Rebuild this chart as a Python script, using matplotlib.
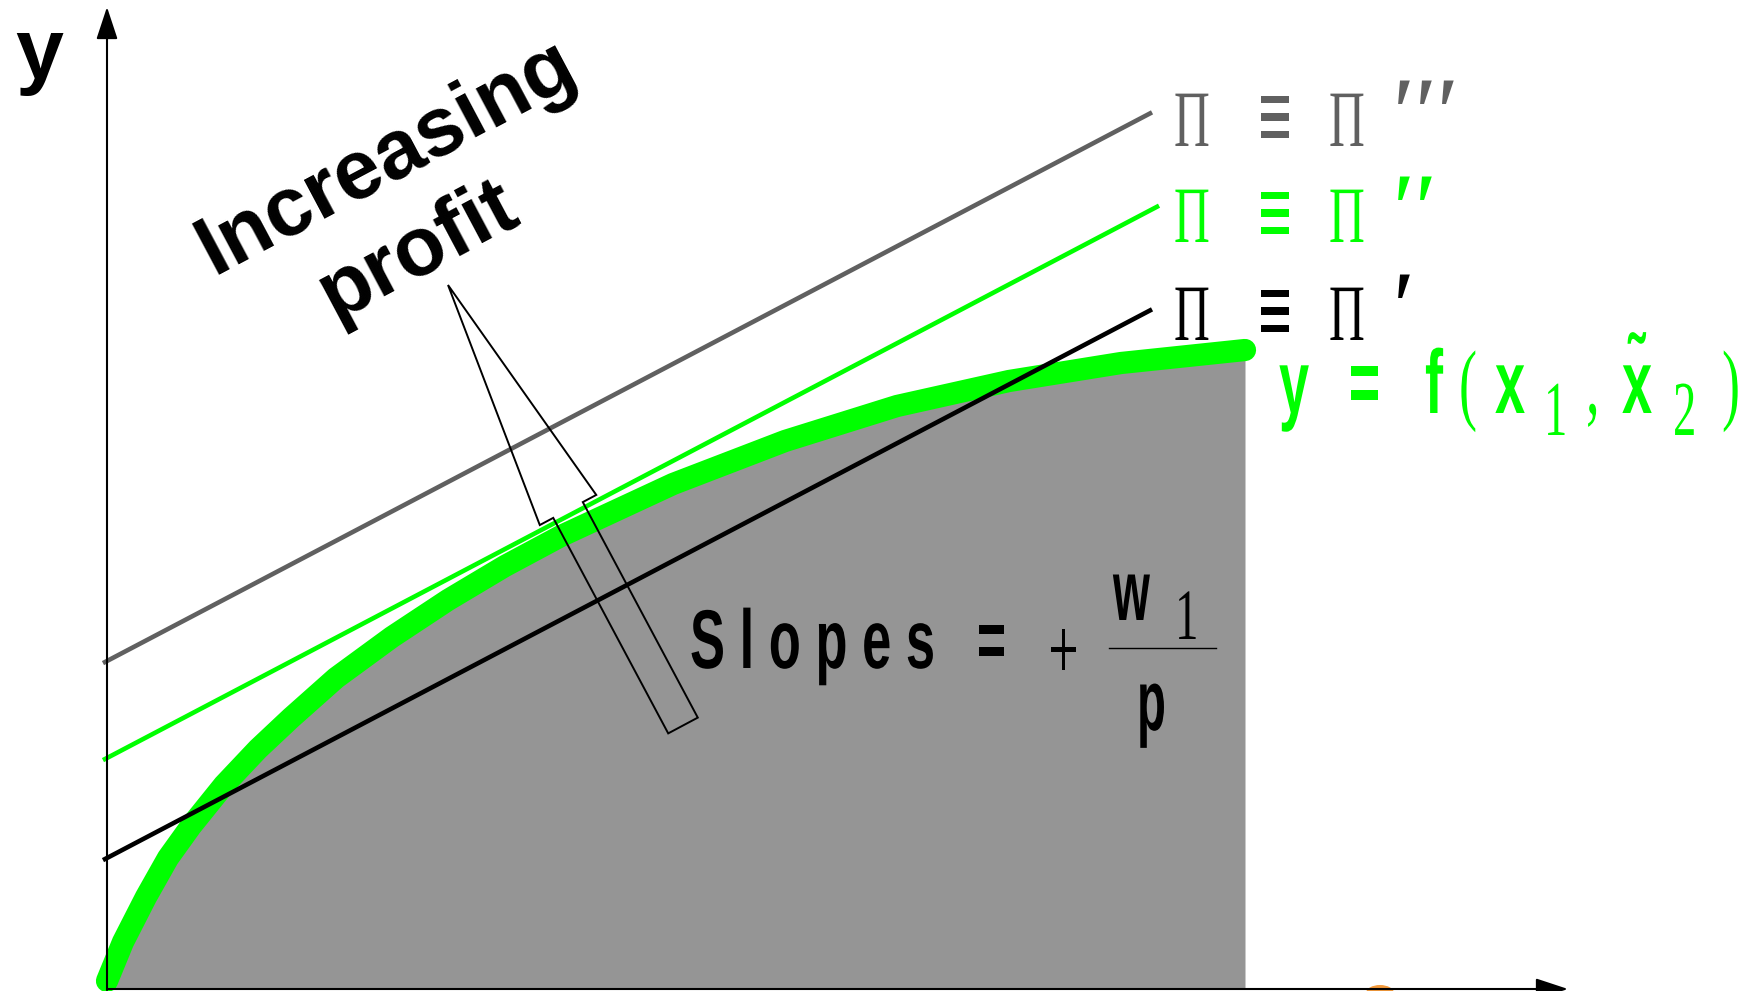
import matplotlib
matplotlib.use("Agg")
import matplotlib.pyplot as plt
from matplotlib.patches import FancyArrow, Ellipse
from matplotlib.patheffects import AbstractPathEffect
from matplotlib.transforms import Affine2D, Bbox
from matplotlib.text import Text
from matplotlib.textpath import TextPath

# production function y = f(x1, x2~)
x1 = [0.00, 0.16, 0.39, 0.61, 0.84, 1.17, 1.51, 1.84, 2.29, 2.85, 3.41, 3.98,
      4.54, 5.66, 6.78, 7.90, 9.02, 10.14, 11.38]
fx = [0.08, 0.47, 0.92, 1.31, 1.63, 2.04, 2.40, 2.71, 3.11, 3.52, 3.89, 4.23,
      4.53, 5.05, 5.48, 5.83, 6.08, 6.26, 6.39]

# iso-profit lines  y = pi/p + (w1/p) x1
slope = 0.525
intercepts = [1.31, 2.31, 3.28]
line_end = [10.43, 10.50, 10.43]
line_colors = ["black", "#00ff00", "#606060"]
primes = ["\u2032", "\u2032\u2032", "\u2032\u2032\u2032"]
label_base = [6.49, 7.47, 8.43]

SANS = "Liberation Sans"
SERIF = "Liberation Serif"
GREEN = "#00ff00"


class Squeeze(AbstractPathEffect):
    # narrow the glyphs horizontally (condensed look of the original)
    def __init__(self, sx):
        super().__init__()
        self.sx = sx

    def draw_path(self, renderer, gc, tpath, affine, rgbFace=None):
        renderer.draw_path(gc, tpath, Affine2D().scale(self.sx, 1.0) + affine, rgbFace)


class NarrowText(Text):
    def __init__(self, x, y, s, sx=1.0, **kw):
        super().__init__(x, y, s, **kw)
        self.sx = sx
        if sx != 1:
            self.set_path_effects([Squeeze(sx)])

    def get_window_extent(self, renderer=None, dpi=None):
        bb = super().get_window_extent(renderer, dpi)
        if self.sx == 1:
            return bb
        # extent of the squeezed glyphs as drawn
        e = TextPath((0, 0), self.get_text(), size=self.get_fontsize(),
                     prop=self.get_fontproperties()).get_extents()
        k = (dpi or self.get_figure(root=True).dpi) / 72.0
        x, y = self.get_transform().transform(self.get_position())
        return Bbox.from_extents(x + e.x0 * k * self.sx, y + e.y0 * k,
                                 x + e.x1 * k * self.sx, y + e.y1 * k)


fig = plt.figure(figsize=(17.58, 9.91), dpi=100)
ax = fig.add_axes([0, 0, 1, 1])
ax.set_xlim(-1.07, 16.51)
ax.set_ylim(-0.02, 9.89)
ax.axis("off")


def txt(x, y, s, size, color="black", family=SANS, weight="bold", sx=0.6, **kw):
    t = NarrowText(x, y, s, sx=sx, fontsize=size, color=color,
                   family=[family, "DejaVu Sans"], weight=weight,
                   ha="left", va="baseline", zorder=7, **kw)
    ax.add_artist(t)
    return t


# feasible set and production function
ax.fill_between(x1, 0, fx, color="#959595", lw=0, zorder=1)
ax.plot(x1, fx, color=GREEN, lw=16, solid_capstyle="round",
        solid_joinstyle="round", zorder=2)

# iso-profit lines
for b, xe, c in zip(intercepts, line_end, line_colors):
    ax.plot([-0.02, xe], [b - 0.02 * slope, b + slope * xe], color=c, lw=3.3, zorder=3)

# axes with arrow heads
arrow_kw = dict(arrowstyle="-|>,head_length=1.0,head_width=0.33", color="black",
                lw=1.5, mutation_scale=20, shrinkA=0, shrinkB=0)
ax.annotate("", xy=(0, 9.82), xytext=(0, -0.01), arrowprops=arrow_kw, zorder=5)
ax.annotate("", xy=(14.61, 0.0), xytext=(0, 0.0), arrowprops=arrow_kw, zorder=5)
ax.add_patch(Ellipse((12.73, -0.04), 0.28, 0.16, color="#f39a3c", lw=0, zorder=4))

# hollow arrow pointing to higher profit
ax.add_patch(FancyArrow(5.76, 2.635, -2.35, 4.405, width=0.335, head_width=0.64,
                        head_length=2.55, length_includes_head=True, fill=False,
                        ec="black", lw=1.4, zorder=6))

txt(-0.92, 9.11, "y", 62, sx=1)
txt(1.06, 7.14, "Increasing", 60, sx=1, rotation=28, rotation_mode="anchor")
txt(2.27, 6.69, "profit", 60, sx=1, rotation=28, rotation_mode="anchor")

# slope label
txt(5.83, 3.21, "S l o p e s", 60, sx=0.63)
txt(8.70, 3.21, "=", 60, sx=0.6)
txt(9.41, 3.10, "+", 64, family=SERIF, weight="normal", sx=0.62)
txt(10.06, 3.69, "w", 62, sx=0.55)
txt(10.68, 3.50, "1", 52, family=SERIF, weight="normal", sx=0.65)
ax.plot([10.02, 11.09], [3.41, 3.41], color="black", lw=1.0, zorder=6)
txt(10.30, 2.59, "p", 62, sx=0.55)

# profit labels
for base, c, pr in zip(label_base, line_colors, primes):
    txt(10.67, base, "\u03a0", 57.6, color=c, family=SERIF, weight="normal", sx=0.62)
    txt(11.51, base - 0.04, "\u2261", 72, color=c, sx=0.58)
    txt(12.22, base, "\u03a0", 57.6, color=c, family=SERIF, weight="normal", sx=0.62)
    txt(12.86, base, pr, 72, color=c, family=SERIF, weight="bold", sx=0.78)

# y = f(x1, x2~)
fparts = [("y", 11.72, 5.76, SANS), ("=", 12.42, 5.76, SANS), ("f", 13.18, 5.76, SANS),
          ("(", 13.52, 5.76, SERIF), ("x", 13.88, 5.76, SANS), ("1", 14.37, 5.54, SERIF),
          (",", 14.79, 5.76, SERIF), ("x\u0303", 15.15, 5.76, SANS),
          ("2", 15.66, 5.54, SERIF), (")", 16.15, 5.76, SERIF)]
for s, x, y, fam in fparts:
    if fam == SANS:
        txt(x, y, s, 65, color=GREEN, sx=0.6)
    else:
        txt(x, y, s, 56 if s in "12" else 65, color=GREEN, family=SERIF,
            weight="normal", sx=0.6)

fig.savefig("out.png", dpi=100)
